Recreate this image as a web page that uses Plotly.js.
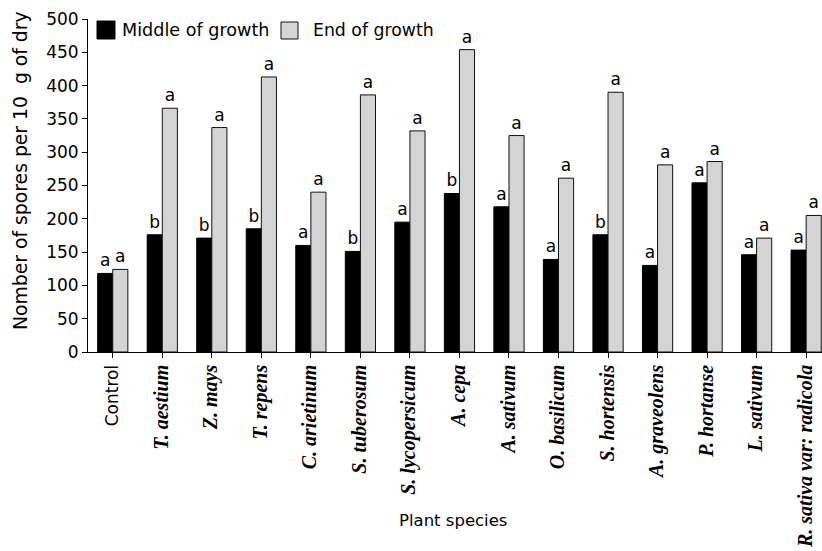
<!DOCTYPE html>
<html>
<head>
<meta charset="utf-8">
<script src="https://cdn.plot.ly/plotly-3.0.1.min.js"></script>
<style>html,body{margin:0;padding:0;background:#fff;}#chart{width:822px;height:551px;}</style>
</head>
<body>
<div id="chart"></div>
<script>
// ---- data ----
var species = ["Control", "T. aestium", "Z. mays", "T. repens", "C. arietinum", "S. tuberosum",
  "S. lycopersicum", "A. cepa", "A. sativum", "O. basilicum", "S. hortensis", "A. graveolens",
  "P. hortanse", "L. sativum", "R. sativa var: radicola"];
var middleOfGrowth = [118, 176, 171, 185, 160, 151, 195, 238, 218, 139, 176, 130, 254, 146, 153];
var endOfGrowth = [124, 366, 337, 413, 240, 386, 332, 454, 325, 261, 390, 281, 286, 171, 205];
var middleLetters = ["a", "b", "b", "b", "a", "b", "a", "b", "a", "a", "b", "a", "a", "a", "a"];
var endLetters = ["a", "a", "a", "a", "a", "a", "a", "a", "a", "a", "a", "a", "a", "a", "a"];
var yTicks = [0, 50, 100, 150, 200, 250, 300, 350, 400, 450, 500];
var seriesNames = ["Middle of growth", "End of growth"];

// ---- geometry helpers (pixel -> paper) ----
var W = 822, H = 551;
var mL = 88, mR = 0, mT = 19, mB = 199;
var pw = W - mL - mR, ph = H - mT - mB;
function px(x) { return (x - mL) / pw; }
function py(y) { return (H - mB - y) / ph; }

var sans = "DejaVu Sans, Verdana, sans-serif";
var ticktext = species.map(function (s, i) {
  if (i === 0) return s;
  return '<span style="font-family:Liberation Serif;font-size:20px"><b><i>' + s + '</i></b></span>';
});
var idx = species.map(function (s, i) { return i; });

var gray = "#d4d4d4";
var traces = [
  {
    type: "bar", name: seriesNames[0], x: idx, y: middleOfGrowth,
    text: middleLetters, textposition: "outside", constraintext: "none", cliponaxis: false,
    textfont: { family: sans, size: 17, color: "#000" },
    marker: { color: "#000", line: { color: "#000", width: 1 } },
    hoverinfo: "y", showlegend: false
  },
  {
    type: "bar", name: seriesNames[1], x: idx, y: endOfGrowth,
    text: endLetters, textposition: "outside", constraintext: "none", cliponaxis: false,
    textfont: { family: sans, size: 17, color: "#000" },
    marker: { color: gray, line: { color: "#111", width: 1 } },
    hoverinfo: "y", showlegend: false
  }
];

var layout = {
  width: W, height: H,
  margin: { l: mL, r: mR, t: mT, b: mB, pad: 0 },
  paper_bgcolor: "#fff", plot_bgcolor: "#fff",
  barmode: "group", bargap: 0.39, bargroupgap: 0,
  font: { family: sans, size: 17, color: "#000" },
  xaxis: {
    range: [-0.5, 14.32], tickmode: "array", tickvals: idx, ticktext: ticktext,
    tickangle: -90, tickson: "boundaries", ticks: "outside", ticklen: 5, tickcolor: "#000",
    showline: true, linecolor: "#000", linewidth: 1, showgrid: false, zeroline: false,
    tickfont: { family: sans, size: 17, color: "#000" }, fixedrange: true
  },
  yaxis: {
    range: [0, 500], tickmode: "array", tickvals: yTicks, ticks: "outside", ticklen: 5,
    tickcolor: "#000", showline: true, linecolor: "#000", linewidth: 1, showgrid: false,
    zeroline: false, tickfont: { family: sans, size: 17, color: "#000" }, fixedrange: true
  },
  shapes: [
    { type: "rect", xref: "paper", yref: "paper", x0: px(97), x1: px(115), y0: py(39), y1: py(21),
      fillcolor: "#000", line: { color: "#000", width: 1 } },
    { type: "rect", xref: "paper", yref: "paper", x0: px(281), x1: px(298), y0: py(39), y1: py(22),
      fillcolor: gray, line: { color: "#111", width: 1 } }
  ],
  annotations: [
    { xref: "paper", yref: "paper", x: px(120), y: py(29.5), xanchor: "left", yanchor: "middle",
      text: seriesNames[0], showarrow: false, font: { family: sans, size: 17.6, color: "#000" } },
    { xref: "paper", yref: "paper", x: px(311), y: py(29.5), xanchor: "left", yanchor: "middle",
      text: seriesNames[1], showarrow: false, font: { family: sans, size: 17.3, color: "#000" } },
    { xref: "paper", yref: "paper", x: px(20), y: py(171), xanchor: "center", yanchor: "middle",
      textangle: -90, text: "Nomber of spores per 10&nbsp; g of dry", showarrow: false,
      font: { family: sans, size: 18.8, color: "#000" } },
    { xref: "paper", yref: "paper", x: px(453), y: py(520), xanchor: "center", yanchor: "middle",
      text: "Plant species", showarrow: false, font: { family: sans, size: 16.5, color: "#000" } }
  ]
};

Plotly.newPlot("chart", traces, layout, { displayModeBar: false, staticPlot: true });
</script>
</body>
</html>
